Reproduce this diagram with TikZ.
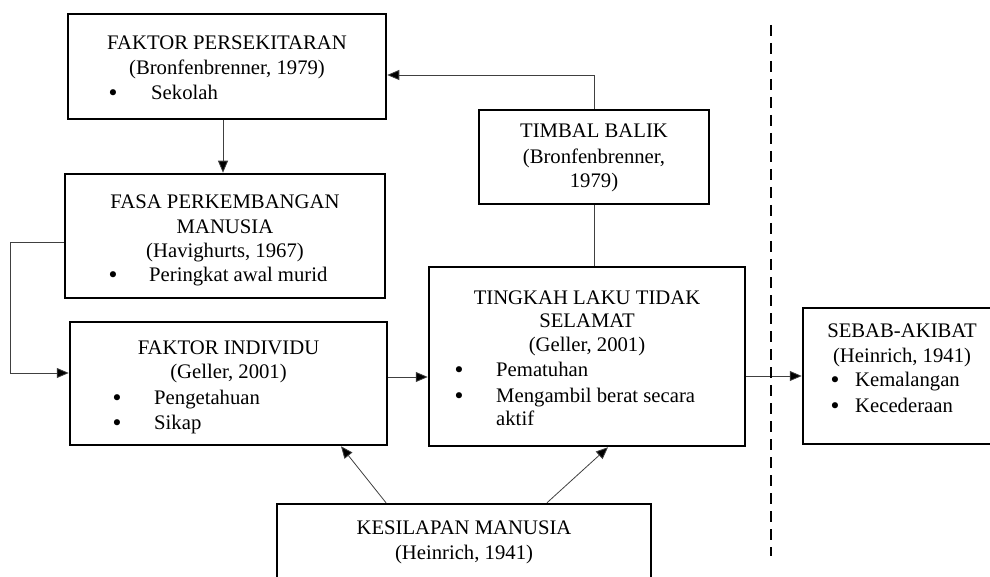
\documentclass[tikz,border=0pt]{standalone}
\usepackage{fontspec}
\setmainfont{Liberation Serif}
\newfontfamily\bulfont{DejaVu Sans}
\usetikzlibrary{arrows.meta}
\newcommand\fsz{\fontsize{20.7pt}{24.5pt}\selectfont}
\newcommand\bsz{\bulfont\fontsize{21pt}{24pt}\selectfont}
\tikzset{
  boxn/.style={draw, line width=2.5pt, rectangle, inner sep=0pt},
  ctr/.style={anchor=base, inner sep=0pt, font=\fsz},
  bul/.style={anchor=base, inner sep=0pt, font=\bsz, yshift=-1pt},
  lft/.style={anchor=base west, inner sep=0pt, font=\fsz},
  conn/.style={line width=0.8pt, draw=black!75},
  arr/.style={conn, -{Triangle[length=12pt,width=10pt,fill=black]}},
  dashln/.style={line width=2.6pt, dash pattern=on 11pt off 7pt}
}
\begin{document}
\begin{tikzpicture}[x=1pt,y=-1pt]
\useasboundingbox (0,0) rectangle (990,577);
% boxes
\node[boxn, minimum width=318pt, minimum height=105pt] (fp) at (227,66.5) {};
\node[boxn, minimum width=320pt, minimum height=124pt] (fasa) at (225,236) {};
\node[boxn, minimum width=317pt, minimum height=123pt] (fi) at (228.5,383.5) {};
\node[boxn, minimum width=316pt, minimum height=179pt] (tl) at (587,356.5) {};
\node[boxn, minimum width=230pt, minimum height=94pt] (tb) at (594,157) {};
\node[boxn, minimum width=198pt, minimum height=136pt] (sa) at (902,376) {};
\node[boxn, minimum width=374pt, minimum height=116pt] (km) at (464,562) {};
% FAKTOR PERSEKITARAN
\node[ctr] (fpA) at (227,50) {FAKTOR PERSEKITARAN};
\node[ctr] (fpB) at (227,75) {(Bronfenbrenner, 1979)};
\node[bul] (fpC) at (113,100) {•};
\node[lft] (fpD) at (151,100) {Sekolah};
% FASA
\node[ctr] (faA) at (225,209) {FASA PERKEMBANGAN};
\node[ctr] (faB) at (225,234) {MANUSIA};
\node[ctr] (faC) at (225,258) {(Havighurts, 1967)};
\node[bul] (faD) at (113,282) {•};
\node[lft] (faE) at (149,282) {Peringkat awal murid};
% FAKTOR INDIVIDU
\node[ctr] (fiA) at (228.5,354) {FAKTOR INDIVIDU};
\node[ctr] (fiB) at (228.5,378) {(Geller, 2001)};
\node[bul] (fiC) at (117,404) {•};
\node[lft] (fiD) at (154,404) {Pengetahuan};
\node[bul] (fiE) at (117,429) {•};
\node[lft] (fiF) at (154,429) {Sikap};
% TINGKAH LAKU
\node[ctr] (tlA) at (587,304) {TINGKAH LAKU TIDAK};
\node[ctr] (tlB) at (587,327) {SELAMAT};
\node[ctr] (tlC) at (587,351) {(Geller, 2001)};
\node[bul] (tlD) at (459,376) {•};
\node[lft] (tlE) at (496,376) {Pematuhan};
\node[bul] (tlF) at (459,402) {•};
\node[lft] (tlG) at (496,402) {Mengambil berat secara};
\node[lft] (tlH) at (496,425) {aktif};
% TIMBAL BALIK
\node[ctr] (tbA) at (594,138) {TIMBAL BALIK};
\node[ctr] (tbB) at (594,164) {(Bronfenbrenner,};
\node[ctr] (tbC) at (594,188) {1979)};
% SEBAB-AKIBAT
\node[ctr] (saA) at (902,337) {SEBAB-AKIBAT};
\node[ctr] (saB) at (902,362) {(Heinrich, 1941)};
\node[bul] (saC) at (835,386) {•};
\node[lft] (saD) at (855,386) {Kemalangan};
\node[bul] (saE) at (835,412) {•};
\node[lft] (saF) at (855,412) {Kecederaan};
% KESILAPAN
\node[ctr] (kmA) at (464,534) {KESILAPAN MANUSIA};
\node[ctr] (kmB) at (464,559) {(Heinrich, 1941)};
% connectors
\draw[arr] ([xshift=-4pt]fp.south) -- ([xshift=-4pt]fp.south |- fasa.north);
\draw[arr] ([yshift=-6pt]fasa.west) -- ++(-53,0) |- ([yshift=10.5pt]fi.west);
\draw[arr] ([yshift=6.5pt]fi.east) -- ([yshift=6.5pt]fi.east -| tl.west);
\draw[conn] (tl.north -| tb.south) -- (tb.south);
\draw[arr] (tb.north) |- ([yshift=-8.5pt]fp.east);
\draw[arr] (tl.east |- sa.west) -- (sa.west);
\draw[arr] ([xshift=-78pt]km.north) -- ([xshift=112.5pt]fi.south);
\draw[arr] ([xshift=83pt]km.north) -- ([xshift=21pt]tl.south);
\coordinate (dtop) at (771,25);
\coordinate (dbot) at (771,556);
\draw[dashln] (dtop) -- (dbot);
\end{tikzpicture}
\end{document}
